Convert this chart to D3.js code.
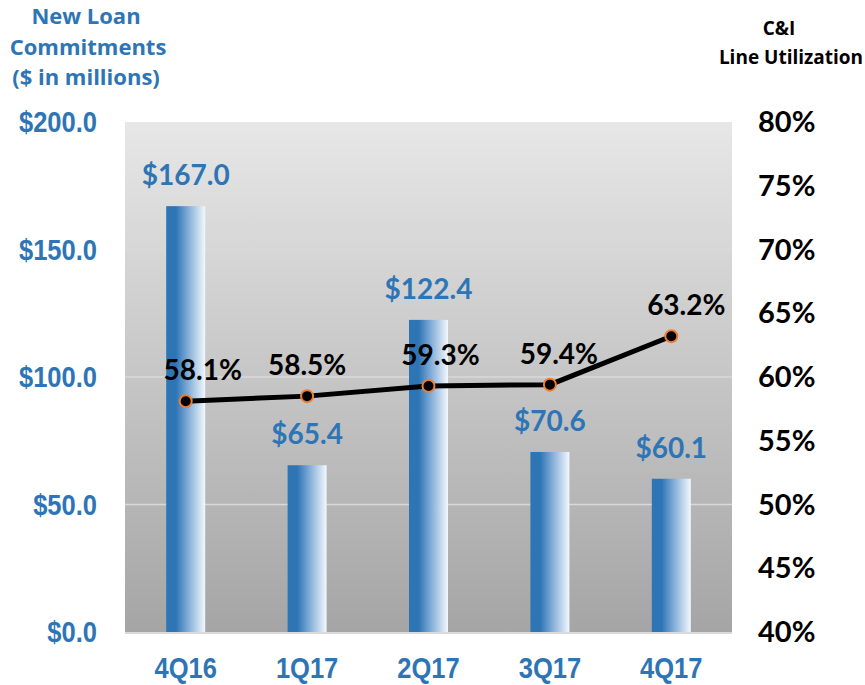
<!DOCTYPE html>
<html>
<head>
  <meta charset="utf-8">
  <title>loan-commitments</title>
  <style>
    * { padding: 0; margin: 0; }
    body { background: #fff; }
    svg { display: block; }
    .t-blue { fill: #2E75B6; font-family: Lato, "Open Sans", sans-serif; font-weight: bold; }
    .t-black { fill: #000; font-family: Lato, "Open Sans", sans-serif; font-weight: bold; }
    .narrow { font-family: "Liberation Sans", Arial, sans-serif; font-weight: bold; }
    .title { font-family: "Open Sans", Lato, sans-serif; font-weight: bold; }
  </style>
</head>
<body>
  <svg id="svg"></svg>
  <script src="https://cdnjs.cloudflare.com/ajax/libs/d3/7.8.5/d3.min.js"></script>
  <script>
    const quarters = ['4Q16', '1Q17', '2Q17', '3Q17', '4Q17'];
    const commitments = [167.0, 65.4, 122.4, 70.6, 60.1];
    const utilization = [58.1, 58.5, 59.3, 59.4, 63.2];
    const leftTicks = [0, 50, 100, 150, 200];
    const rightTicks = [40, 45, 50, 55, 60, 65, 70, 75, 80];
    const lineLabelDx = [17, 0, 12, 9, 15];

    const W = 865, H = 685;
    const plot = { left: 125, right: 732, top: 122, bottom: 632 };

    const svg = d3.select('#svg').attr('width', W).attr('height', H);

    const x = d3.scaleBand().domain(quarters).range([plot.left, plot.right]).padding(0);
    const yL = d3.scaleLinear().domain([0, 200]).range([plot.bottom, plot.top]);
    const yR = d3.scaleLinear().domain([40, 80]).range([plot.bottom, plot.top]);
    const barW = 39;
    const cx = q => x(q) + x.bandwidth() / 2;

    const defs = svg.append('defs');
    const bg = defs.append('linearGradient').attr('id', 'bg').attr('x1', 0).attr('y1', 0).attr('x2', 0).attr('y2', 1);
    bg.append('stop').attr('offset', '0%').attr('stop-color', '#e7e7e7');
    bg.append('stop').attr('offset', '100%').attr('stop-color', '#a5a5a5');

    const bar = defs.append('linearGradient').attr('id', 'bar').attr('x1', 0).attr('y1', 0).attr('x2', 1).attr('y2', 0);
    bar.append('stop').attr('offset', '0%').attr('stop-color', '#2E75B6');
    bar.append('stop').attr('offset', '25%').attr('stop-color', '#2E75B6');
    bar.append('stop').attr('offset', '60%').attr('stop-color', '#8cb3da');
    bar.append('stop').attr('offset', '100%').attr('stop-color', '#f3f8fd');

    // plot background
    svg.append('rect')
      .attr('x', plot.left).attr('y', plot.top)
      .attr('width', plot.right - plot.left).attr('height', plot.bottom - plot.top)
      .attr('fill', 'url(#bg)');

    // gridlines
    svg.append('g').selectAll('line')
      .data(leftTicks.filter(d => d > 0 && d < 200))
      .enter().append('line')
      .attr('x1', plot.left).attr('x2', plot.right)
      .attr('y1', d => yL(d)).attr('y2', d => yL(d))
      .attr('stroke', '#d9d9d9').attr('stroke-width', 1.5);

    // bottom axis line
    svg.append('line')
      .attr('x1', plot.left).attr('x2', plot.right)
      .attr('y1', plot.bottom + 1).attr('y2', plot.bottom + 1)
      .attr('stroke', '#d9d9d9').attr('stroke-width', 2);

    // bars
    svg.append('g').selectAll('rect')
      .data(commitments)
      .enter().append('rect')
      .attr('x', (d, i) => cx(quarters[i]) - barW / 2)
      .attr('y', d => yL(d))
      .attr('width', barW)
      .attr('height', d => yL(0) - yL(d))
      .attr('fill', 'url(#bar)');

    svg.append('g').selectAll('text')
      .data(commitments)
      .enter().append('text')
      .attr('class', 't-blue')
      .attr('x', (d, i) => cx(quarters[i]))
      .attr('y', d => yL(d) - 21)
      .attr('text-anchor', 'middle')
      .style('font-size', '28px')
      .text(d => '$' + d.toFixed(1));

    // line
    const line = d3.line()
      .x((d, i) => cx(quarters[i]))
      .y(d => yR(d));

    svg.append('path')
      .datum(utilization)
      .attr('d', line)
      .attr('fill', 'none')
      .attr('stroke', '#000')
      .attr('stroke-width', 5);

    svg.append('g').selectAll('circle')
      .data(utilization)
      .enter().append('circle')
      .attr('cx', (d, i) => cx(quarters[i]))
      .attr('cy', d => yR(d))
      .attr('r', 6)
      .attr('fill', '#000')
      .attr('stroke', '#ED7D31')
      .attr('stroke-width', 2);

    svg.append('g').selectAll('text')
      .data(utilization)
      .enter().append('text')
      .attr('class', 't-black')
      .attr('x', (d, i) => cx(quarters[i]) + lineLabelDx[i])
      .attr('y', d => yR(d) - 21)
      .attr('text-anchor', 'middle')
      .style('font-size', '28px')
      .text(d => d.toFixed(1) + '%');

    // left axis (condensed look)
    svg.append('g').selectAll('text')
      .data(leftTicks)
      .enter().append('text')
      .attr('class', 't-blue narrow')
      .attr('transform', d => `translate(97,${yL(d)}) scale(0.88,1)`)
      .attr('dy', '0.35em')
      .attr('text-anchor', 'end')
      .style('font-size', '29px')
      .text(d => '$' + d.toFixed(1));

    // right axis
    svg.append('g').selectAll('text')
      .data(rightTicks)
      .enter().append('text')
      .attr('class', 't-black')
      .attr('x', 758)
      .attr('y', d => yR(d))
      .attr('dy', '0.35em')
      .attr('text-anchor', 'start')
      .style('font-size', '29px')
      .text(d => d + '%');

    // x axis labels
    svg.append('g').selectAll('text')
      .data(quarters)
      .enter().append('text')
      .attr('class', 't-blue narrow')
      .attr('transform', d => `translate(${cx(d)},678) scale(0.88,1)`)
      .attr('text-anchor', 'middle')
      .style('font-size', '29px')
      .text(d => d);

    // axis titles
    const lt = svg.append('text').attr('class', 'title').attr('fill', '#2E75B6').attr('text-anchor', 'middle').style('font-size', '22px');
    lt.append('tspan').attr('x', 86).attr('y', 24).text('New Loan');
    lt.append('tspan').attr('x', 88).attr('y', 55).text('Commitments');
    lt.append('tspan').attr('x', 86).attr('y', 85).text('($ in millions)');

    const rt = svg.append('text').attr('class', 'title').attr('fill', '#000').attr('text-anchor', 'middle').style('font-size', '19px');
    rt.append('tspan').attr('x', 779).attr('y', 35).text('C&I');
    rt.append('tspan').attr('x', 791).attr('y', 64).text('Line Utilization');
  </script>
</body>
</html>
